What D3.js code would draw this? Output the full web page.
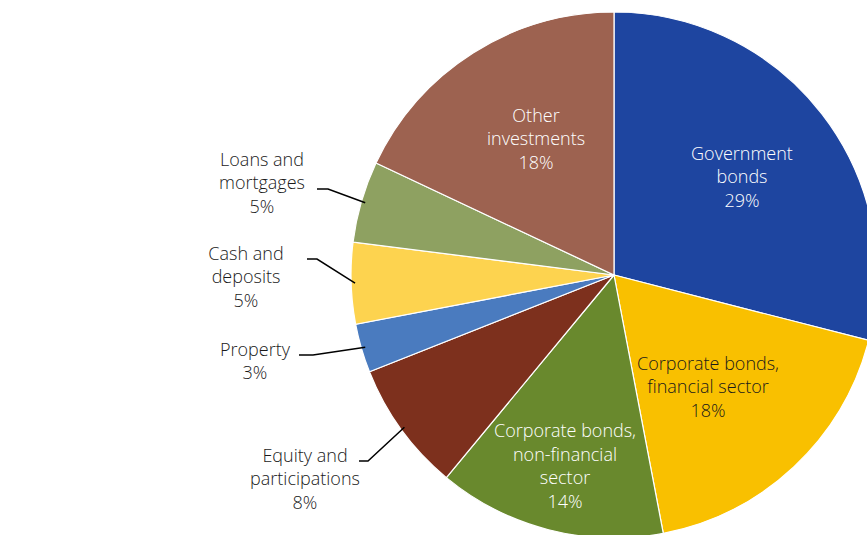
<!DOCTYPE html>
<html>
<head>
<meta charset="utf-8">
<script src="https://cdn.jsdelivr.net/npm/d3@7"></script>
<style>
  body { margin: 0; background: #fff; }
  svg text { font-family: "Open Sans", "Noto Sans", sans-serif; font-size: 18px; font-weight: 350; }
</style>
</head>
<body>
<div id="chart"></div>
<script>
// slices, clockwise from 12 o'clock
var categories = [
  ["Government", "bonds"],
  ["Corporate bonds,", "financial sector"],
  ["Corporate bonds,", "non-financial", "sector"],
  ["Equity and", "participations"],
  ["Property"],
  ["Cash and", "deposits"],
  ["Loans and", "mortgages"],
  ["Other", "investments"]
];
var shares = [29, 18, 14, 8, 3, 5, 5, 18];
var colors = ["#1e45a0", "#f9c000", "#69892d", "#7d301d", "#4a7bbf", "#fdd34f", "#8ea161", "#9d6250"];
var textColors = ["#fff", "#1a1a1a", "#fff", "#1a1a1a", "#1a1a1a", "#1a1a1a", "#1a1a1a", "#fff"];

var svgWidth = 867, svgHeight = 535;
var cx = 614, cy = 275, radius = 263;

// label anchors relative to the centre; outside ones also get a leader line
var labelSpots = [
  { x: 128, y: -98, inside: true },
  { x: 94, y: 112, inside: true },
  { x: -49, y: 191, inside: true },
  { x: -309, y: 204, line: [[-246, 186], [-255, 186]] },
  { x: -359, y: 86, line: [[-301, 80], [-315, 80]] },
  { x: -368, y: 2, line: [[-297, -16], [-307, -16]] },
  { x: -352, y: -92, line: [[-286, -86], [-297, -86]] },
  { x: -78, y: -136, inside: true }
];

var svg = d3.select("#chart")
  .append("svg")
  .attr("width", svgWidth)
  .attr("height", svgHeight);

var chartGroup = svg.append("g")
  .attr("transform", `translate(${cx}, ${cy})`);

var pie = d3.pie().sort(null).value(d => d);
var arcs = pie(shares);

var arc = d3.arc().innerRadius(0).outerRadius(radius);

chartGroup.selectAll("path.slice")
  .data(arcs)
  .enter()
  .append("path")
  .attr("class", "slice")
  .attr("d", arc)
  .attr("fill", (d, i) => colors[i])
  .attr("stroke", "#fff")
  .attr("stroke-width", 1.2);

// leader lines: from the rim at the slice's middle angle to the label
var lineArc = d3.arc().innerRadius(radius * 0.985).outerRadius(radius * 0.985);
arcs.forEach(function(d, i) {
  var spot = labelSpots[i];
  if (!spot.line) return;
  var p = lineArc.centroid(d);
  var pts = [p, spot.line[0], spot.line[1]];
  chartGroup.append("path")
    .attr("d", d3.line()(pts.reverse()))
    .attr("fill", "none")
    .attr("stroke", "#000")
    .attr("stroke-width", 1.5);
});

// labels
var lineHeight = 23.5;
arcs.forEach(function(d, i) {
  var spot = labelSpots[i];
  var lines = categories[i].concat([d.data + "%"]);
  var top = spot.y - (lines.length - 1) * lineHeight / 2;
  var t = chartGroup.append("text")
    .attr("text-anchor", "middle")
    .attr("fill", textColors[i]);
  lines.forEach(function(s, j) {
    t.append("tspan")
      .attr("x", spot.x)
      .attr("y", top + j * lineHeight)
      .attr("dy", "0.35em")
      .text(s);
  });
});
</script>
</body>
</html>
